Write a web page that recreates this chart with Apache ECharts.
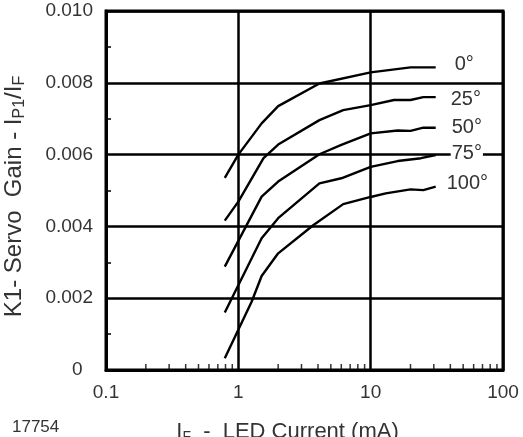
<!DOCTYPE html>
<html>
<head>
<meta charset="utf-8">
<script src="https://cdn.jsdelivr.net/npm/echarts@6/dist/echarts.min.js"></script>
<style>
  html, body { margin: 0; padding: 0; background: #fff; }
  #chart { width: 523px; height: 437px; }
</style>
</head>
<body>
<div id="chart"></div>
<script>
// LED current (mA) and servo gain, one pair of arrays per angle
const angles = ['0°', '25°', '50°', '75°', '100°']

const current0 = [0.79, 1.0, 1.5, 2.0, 4.1, 10, 20, 31]
const gain0 = [0.00535, 0.00600, 0.00687, 0.00735, 0.00798, 0.00829, 0.00843, 0.00843]

const current25 = [0.79, 1.0, 1.55, 2.0, 4.1, 6.2, 10, 15, 20, 25, 31]
const gain25 = [0.00416, 0.00469, 0.00590, 0.00628, 0.00696, 0.00724, 0.00738, 0.00752, 0.00752, 0.00760, 0.00760]

const current50 = [0.79, 1.5, 2.0, 4.1, 6.0, 10, 16, 20, 25, 31]
const gain50 = [0.00288, 0.00483, 0.00525, 0.00601, 0.00627, 0.00659, 0.00667, 0.00666, 0.00675, 0.00675]

const current75 = [0.79, 1.5, 2.0, 4.1, 6.0, 10, 16, 24, 31]
const gain75 = [0.00160, 0.00367, 0.00423, 0.00520, 0.00534, 0.00566, 0.00582, 0.00590, 0.00599]

const current100 = [0.79, 1.26, 1.5, 2.0, 3.7, 6.2, 10, 13, 20, 25, 31]
const gain100 = [0.00033, 0.00190, 0.00262, 0.00325, 0.00404, 0.00462, 0.00482, 0.00492, 0.00503, 0.00501, 0.00511]

// small log ticks along the bottom edge
const xMinorTicks = [0.2, 0.3, 0.4, 0.5, 0.6, 0.7, 0.8, 0.9,
    2, 3, 4, 5, 6, 7, 8, 9,
    20, 30, 40, 50, 60, 70, 80, 90]

const curves = [
    [current0, gain0],
    [current25, gain25],
    [current50, gain50],
    [current75, gain75],
    [current100, gain100]
]
// label nudges so the angle text sits where the datasheet puts it
const labelOffsets = [[18, -3], [14, 2], [15, 0], [15, -1], [10, -3]]

const font = "'Liberation Sans', Arial, sans-serif"
const chart = echarts.init(document.getElementById('chart'))

const lineSeries = curves.map(([xs, ys], i) => ({
    name: angles[i],
    type: 'line',
    data: xs.map((x, j) => [x, ys[j]]),
    showSymbol: false,
    silent: true,
    lineStyle: { color: '#000', width: 2.4 },
    endLabel: {
        show: true,
        formatter: '{a}',
        distance: 0,
        offset: labelOffsets[i],
        color: '#333',
        fontFamily: font,
        fontSize: 20,
        backgroundColor: '#fff',
        padding: [0, 1]
    },
    z: 3
}))

chart.setOption({
    animation: false,
    backgroundColor: '#fff',
    grid: {
        left: 106,
        right: 20,
        top: 11,
        bottom: 67,
        outerBoundsMode: 'none',
        containLabel: false,
        show: true,
        borderColor: '#000',
        borderWidth: 3
    },
    xAxis: {
        type: 'log',
        logBase: 10,
        min: 0.1,
        max: 100,
        axisLine: { show: true, lineStyle: { color: '#000', width: 3 } },
        axisTick: { show: false },
        axisLabel: {
            color: '#333',
            fontFamily: font,
            fontSize: 19,
            margin: 13
        },
        splitLine: { show: true, lineStyle: { color: '#000', width: 2.5 } },
        name: '{a|I}{s|F}{a|  -  LED Current (mA)}',
        nameLocation: 'middle',
        nameGap: 50,
        nameTextStyle: {
            color: '#333',
            fontFamily: font,
            padding: [0, 34, 0, 0],
            rich: {
                a: { fontSize: 22, fontFamily: font, color: '#333' },
                s: { fontSize: 14, fontFamily: font, color: '#333', padding: [10, 0, 0, 0] }
            }
        }
    },
    yAxis: {
        type: 'value',
        min: 0,
        max: 0.01,
        interval: 0.002,
        axisLine: { show: true, lineStyle: { color: '#000', width: 3 } },
        axisTick: { show: false, inside: true },
        minorTick: { show: true, splitNumber: 2, length: 5, lineStyle: { color: '#000', width: 1.5 } },
        axisLabel: {
            color: '#333',
            fontFamily: font,
            fontSize: 19,
            margin: 13,
            formatter: v => v === 0 ? '0  ' : v.toFixed(3)
        },
        splitLine: { show: true, lineStyle: { color: '#000', width: 2.5 } },
        name: '{a|K1- Servo  Gain - I}{s|P1}{a|/I}{s|F}',
        nameLocation: 'middle',
        nameRotate: 90,
        nameGap: 78,
        nameTextStyle: {
            color: '#333',
            fontFamily: font,
            padding: [0, 12, 0, 0],
            rich: {
                a: { fontSize: 24, fontFamily: font, color: '#333' },
                s: { fontSize: 16, fontFamily: font, color: '#333', padding: [11, 0, 0, 0] }
            }
        }
    },
    graphic: [{
        type: 'text',
        left: 12,
        top: 419,
        style: { text: '17754', fontFamily: font, fontSize: 17, fill: '#333' }
    }],
    series: lineSeries.concat([{
        type: 'scatter',
        data: xMinorTicks.map(v => [v, 0]),
        symbol: 'rect',
        symbolSize: [1.5, 6],
        symbolOffset: [0, -3],
        itemStyle: { color: '#000' },
        silent: true,
        z: 4
    }])
})
</script>
</body>
</html>
